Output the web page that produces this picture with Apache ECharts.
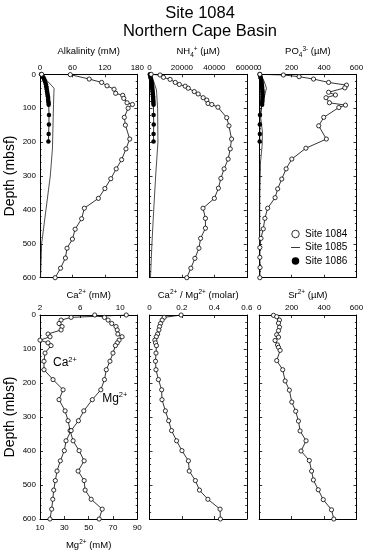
<!DOCTYPE html>
<html><head><meta charset="utf-8">
<script src="https://cdn.jsdelivr.net/npm/echarts@6/dist/echarts.min.js"></script>
<style>html,body{margin:0;padding:0;background:#fff}#c{width:370px;height:558px}</style>
</head><body><div id="c"></div>
<script>
// ---------- DATA ----------
// Alkalinity (mM)
const alkDepth1084 = [0,1,14,24,34,44,56,62,71,84,89,100,127,150,191,220,252,279,308,337,366,395,426,457,486,513,542,572,600];
const alk1084      = [3,56,91,114,124,137,140,153,155,161,171,163,156,158,166,159,151,141,131,120,108,82,77,65,60,50,47,38,28];
const alkDepth1085 = [0,41,90,220,300,400,500,600];
const alk1085      = [2,26,25,23,19,11,3,1];
const depth1086    = [0,4,8,12,16,20,25,30,35,40,45,50,55,60,65,70,75,80,85,90,120,148,176,198];
const alk1086      = [2,4,5.5,7,8,9,10,11,11.5,12,12.5,13,13.5,14,14.5,15,15,15.5,16,16,16.7,16.5,16,15.5];
// NH4+ (uM)
const nh4Depth1084 = [0,2,9,15,24,30,35,41,51,58,69,76,86,89,97,128,152,191,220,250,279,307,336,366,395,425,454,484,513,543,572,600];
const nh41084      = [1000,6500,8600,12700,15900,18400,22000,23900,27600,30000,33100,35300,36100,38400,42200,47600,49000,50600,49800,48500,46000,44000,42500,40000,33000,34500,34500,31500,30500,28000,25500,23000];
const nh4Depth1085 = [0,20,46,100,200,300,400,500,600];
const nh41085      = [300,2500,4300,5000,5200,3800,2600,1500,600];
const nh41086      = [200,400,600,800,1000,1200,1400,1500,1600,1700,1800,1900,2000,2100,2200,2300,2300,2400,2400,2500,2500,2600,2500,2500];
// PO4 3- (uM)
const po4Depth1084 = [0,2,7,14,24,32,40,53,61,69,84,91,98,127,152,191,218,250,279,309,338,364,395,425,456,484,511,540,570,600];
const po41084      = [4,149,246,335,428,538,528,428,470,412,433,532,491,398,367,414,288,201,166,139,114,98,52,35,25,11,4,4,5,4];
const po4Depth1085 = [0,20,41,60,90,130,170,210,260,350,450,600];
const po41085      = [5,30,45,35,15,10,20,18,8,4,3,2];
const po41086      = [3,6,8,10,12,14,15,16,17,18,19,20,20,21,21,20,20,19,18,18,5,4,4,3];
// Ca2+, Mg2+ (mM) and Ca/Mg (molar), Site 1084
const caMgDepth = [0,7,15,25,34,44,56,64,74,82,90,112,136,161,190,220,249,282,311,340,370,399,429,459,487,515,542,571,600];
const ca        = [10.6,5.1,4.1,3.9,4.2,4.1,2.8,3.0,2.0,2.8,3.1,2.5,2.4,2.4,3.3,4.3,3.9,4.5,4.8,5.0,5.3,5.9,6.4,5.8,6.4,6.5,7.1,8.2,7.9];
const mg        = [55,63,66,69,72.5,73.5,74,77.5,75,73.5,72,70,67.5,64.5,63,60,53,46,41.6,35.6,31.4,30,26.7,24,22.6,21.3,20.5,19.6,18.2];
const caMgRatio = [0.195,0.09,0.078,0.068,0.062,0.058,0.05,0.042,0.033,0.037,0.043,0.04,0.037,0.04,0.055,0.075,0.077,0.098,0.118,0.136,0.167,0.2,0.24,0.245,0.283,0.308,0.36,0.435,0.437];
// Sr2+ (uM)
const srDepth = [1,5,15,24,36,46,58,65,75,88,95,104,134,161,194,221,256,283,312,341,370,400,428,459,485,514,543,573,600];
const sr      = [88,108,125,119,125,119,108,119,98,113,119,129,108,145,160,186,201,225,242,252,289,258,309,323,334,364,395,446,460];

const siteNames = ['Site 1084','Site 1085','Site 1086'];
const depthTicks = {min:0, max:600, interval:100};

// ---------- CHART ----------
const FONT = "'Liberation Sans', Arial, Helvetica, sans-serif";
const pts = (d, v) => v.map((x, i) => [x, d[i]]);
const rich = {
  sup: {fontSize: 6.5, verticalAlign: 'top', fontFamily: FONT, color: '#000', lineHeight: 7},
  sub: {fontSize: 6.5, verticalAlign: 'bottom', fontFamily: FONT, color: '#000', lineHeight: 7}
};
const colsX = [40, 149.5, 259.2], W = 97.3;
const rows = [{top: 74.3, h: 203.4}, {top: 315, h: 204}];

const panels = [
  {row:0, col:0, top:{min:0, max:180, interval:60, name:'Alkalinity (mM)'}},
  {row:0, col:1, top:{min:0, max:60000, interval:20000, name:'NH{sub|4}{sup|+} (µM)'}},
  {row:0, col:2, top:{min:0, max:600, interval:200, name:'PO{sub|4}{sup|3-} (µM)'}},
  {row:1, col:0, top:{min:2, max:11.7, interval:4, name:'Ca{sup|2+} (mM)', hideMax:true},
                 bottom:{min:10, max:90, interval:20, name:'Mg{sup|2+} (mM)'}},
  {row:1, col:1, top:{min:0, max:0.6, interval:0.2, name:'Ca{sup|2+} / Mg{sup|2+} (molar)'}},
  {row:1, col:2, top:{min:0, max:600, interval:200, name:'Sr{sup|2+} (µM)'}}
];

const lineBlack = {color: '#000', width: 1};
const grids = [], xAxes = [], yAxes = [];
panels.forEach((p, g) => {
  const r = rows[p.row];
  grids.push({left: colsX[p.col], top: r.top, width: W, height: r.h, show: false, containLabel: false});
  const topGap = p.row === 0 ? 16 : 13.5;
  const lblMargin = p.row === 0 ? 2.5 : 3.5;
  xAxes.push({
    type: 'value', gridIndex: g, position: 'top',
    min: p.top.min, max: p.top.max, interval: p.top.interval,
    axisLine: {show: true, onZero: false, lineStyle: lineBlack},
    axisTick: {show: true, inside: true, length: 3, lineStyle: {color: '#000', width: 0.8}},
    minorTick: {show: false}, splitLine: {show: false},
    axisLabel: {show: true, fontSize: 8, color: '#000', fontFamily: FONT, margin: lblMargin,
      showMaxLabel: p.top.hideMax ? false : null, formatter: v => String(v)},
    name: p.top.name, nameLocation: 'middle', nameGap: topGap, nameMoveOverlap: false,
    nameTextStyle: {fontSize: 9.5, color: '#000', fontFamily: FONT, lineHeight: 13, rich: rich}
  });
  const b = p.bottom;
  xAxes.push({
    type: 'value', gridIndex: g, position: 'bottom',
    min: b ? b.min : p.top.min, max: b ? b.max : p.top.max, interval: b ? b.interval : p.top.interval,
    axisLine: {show: true, onZero: false, lineStyle: lineBlack},
    axisTick: {show: true, inside: true, length: 3, lineStyle: {color: '#000', width: 0.8}},
    minorTick: {show: false}, splitLine: {show: false},
    axisLabel: {show: !!b, fontSize: 8, color: '#000', fontFamily: FONT, margin: 5, formatter: v => String(v)},
    name: b ? b.name : '', nameLocation: 'middle', nameGap: 19.5, nameMoveOverlap: false,
    nameTextStyle: {fontSize: 9.5, color: '#000', fontFamily: FONT, lineHeight: 13, rich: rich}
  });
  const showY = p.col === 0;
  ['left', 'right'].forEach(pos => {
    yAxes.push({
      type: 'value', gridIndex: g, position: pos, inverse: true,
      min: depthTicks.min, max: depthTicks.max, interval: depthTicks.interval,
      axisLine: {show: true, onZero: false, lineStyle: lineBlack},
      axisTick: {show: true, inside: true, length: 3, lineStyle: {color: '#000', width: 0.8}},
      minorTick: {show: true, splitNumber: 5, length: 1.6, lineStyle: {color: '#000', width: 0.8}},
      splitLine: {show: false},
      axisLabel: {show: showY && pos === 'left', fontSize: 8, color: '#000', fontFamily: FONT, margin: 4},
      name: (showY && pos === 'left') ? 'Depth (mbsf)' : '', nameLocation: 'middle', nameGap: 23,
      nameRotate: 90, nameMoveOverlap: false,
      nameTextStyle: {fontSize: 14, color: '#000', fontFamily: FONT}
    });
  });
});

const s1084 = (g, data, xi) => ({
  type: 'line', name: siteNames[0], xAxisIndex: xi !== undefined ? xi : 2 * g, yAxisIndex: 2 * g,
  data: data, symbol: 'circle', symbolSize: 4.2, showSymbol: true, showAllSymbol: true,
  lineStyle: {color: '#000', width: 0.8}, itemStyle: {color: '#fff', borderColor: '#000', borderWidth: 0.8},
  z: 5, animation: false, silent: true
});
const s1085 = (g, data) => ({
  type: 'line', name: siteNames[1], xAxisIndex: 2 * g, yAxisIndex: 2 * g, data: data,
  symbol: 'none', lineStyle: {color: '#222', width: 0.8}, itemStyle: {color: '#222'},
  z: 3, animation: false, silent: true
});
const s1086 = (g, data) => ({
  type: 'line', name: siteNames[2], xAxisIndex: 2 * g, yAxisIndex: 2 * g, data: data,
  symbol: 'circle', symbolSize: 4.5, showAllSymbol: true,
  lineStyle: {color: '#000', width: 0.8}, itemStyle: {color: '#000'}, z: 4, animation: false, silent: true
});

const series = [
  s1085(0, pts(alkDepth1085, alk1085)), s1086(0, pts(depth1086, alk1086)), s1084(0, pts(alkDepth1084, alk1084)),
  s1085(1, pts(nh4Depth1085, nh41085)), s1086(1, pts(depth1086, nh41086)), s1084(1, pts(nh4Depth1084, nh41084)),
  s1085(2, pts(po4Depth1085, po41085)), s1086(2, pts(depth1086, po41086)), s1084(2, pts(po4Depth1084, po41084)),
  s1084(3, pts(caMgDepth, ca), 6), s1084(3, pts(caMgDepth, mg), 7),
  s1084(4, pts(caMgDepth, caMgRatio)),
  s1084(5, pts(srDepth, sr))
];

const chart = echarts.init(document.getElementById('c'), null, {renderer: 'canvas'});
chart.setOption({
  animation: false,
  backgroundColor: '#fff',
  title: {
    text: 'Site 1084\nNorthern Cape Basin', left: 200, top: 4, padding: 0, textAlign: 'center',
    textStyle: {fontSize: 16.5, fontWeight: 'normal', lineHeight: 18, color: '#000', fontFamily: FONT}
  },
  legend: {
    orient: 'vertical', left: 291, top: 228, padding: 0, itemWidth: 9, itemHeight: 7.5, itemGap: 1.5,
    selectedMode: false,
    textStyle: {fontSize: 10, color: '#000', fontFamily: FONT, lineHeight: 12},
    data: [
      {name: siteNames[0], icon: 'circle', itemStyle: {color: '#fff', borderColor: '#000', borderWidth: 0.8}},
      {name: siteNames[1], icon: 'path://M0,0 L10,0 L10,1 L0,1 Z', itemStyle: {color: '#222', borderWidth: 0}},
      {name: siteNames[2], icon: 'circle', itemStyle: {color: '#000'}}
    ]
  },
  grid: grids, xAxis: xAxes, yAxis: yAxes, series: series
});

// in-plot labels anchored to data coordinates (Mg axis / depth)
const caLbl = {mg: 20.7, depth: 141};
const mgLbl = {mg: 61.1, depth: 245};
const px = (a) => [chart.convertToPixel({xAxisIndex: 7}, a.mg), chart.convertToPixel({yAxisIndex: 6}, a.depth)];
const pc = px(caLbl), pm = px(mgLbl);
const annRich = {sup: {fontSize: 7.5, verticalAlign: 'top', fontFamily: FONT, fill: '#000', lineHeight: 8}};
chart.setOption({graphic: [
  {type: 'text', x: pc[0], y: pc[1], silent: true, style: {text: 'Ca{sup|2+}', fontSize: 12, fontFamily: FONT, fill: '#000', lineHeight: 15, verticalAlign: 'middle', align: 'left', rich: annRich}},
  {type: 'text', x: pm[0], y: pm[1], silent: true, style: {text: 'Mg{sup|2+}', fontSize: 12, fontFamily: FONT, fill: '#000', lineHeight: 15, verticalAlign: 'middle', align: 'left', rich: annRich}}
]});
</script></body></html>
